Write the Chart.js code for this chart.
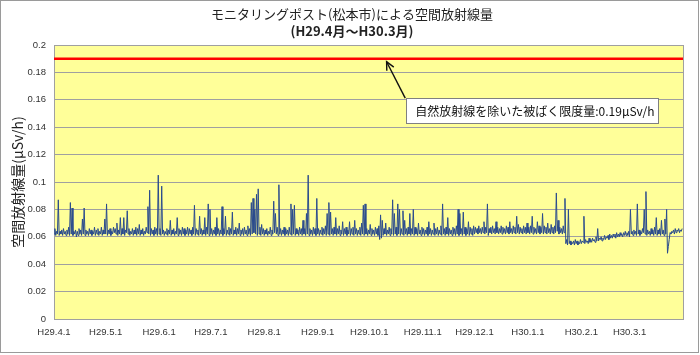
<!DOCTYPE html>
<html><head><meta charset="utf-8">
<script src="https://cdn.jsdelivr.net/npm/chart.js@4.4.0/dist/chart.umd.min.js"></script>
<style>html,body{margin:0;padding:0;background:#fff;}#wrap{width:700px;height:355px;position:relative;}</style>
</head><body><div id="wrap"><canvas id="c" width="700" height="355"></canvas></div>
<script>
const titleText = 'モニタリングポスト(松本市)による空間放射線量';
const subtitleText = '(H29.4月～H30.3月)';
const yAxisTitle = '空間放射線量(μSv/h)';
const limitLabel = '自然放射線を除いた被ばく限度量:0.19μSv/h';
const limitValue = 0.19;
const monthStartDays = [0,30,61,91,122,153,183,214,244,275,306,334];
const monthLabels = ['H29.4.1','H29.5.1','H29.6.1','H29.7.1','H29.8.1','H29.9.1','H29.10.1','H29.11.1','H29.12.1','H30.1.1','H30.2.1','H30.3.1'];
const yTicks = [0,0.02,0.04,0.06,0.08,0.1,0.12,0.14,0.16,0.18,0.2];
const totalDays = 365;
const readingsPerDay = 2;
// readings in nSv/h (0.001 μSv/h), two per day
const apr = [62,66,61,64,62,87,61,64,62,65,61,66,62,64,61,65,62,67,61,85,62,81,61,64,62,65,60,64,61,66,62,65,61,73,62,81,61,65,62,64,61,66,62,65,61,64,62,67,61,65,62,66,61,64,62,67,61,65,62,73];
const may = [62,84,61,65,62,66,61,64,62,67,63,66,62,70,61,65,62,74,61,66,62,74,61,65,63,79,62,66,61,64,62,66,61,65,62,67,61,66,62,69,61,65,62,66,61,64,62,67,63,82,62,94,61,66,62,65,61,67,62,66,61,105];
const jun = [62,66,61,97,62,65,61,64,62,66,61,65,62,72,61,65,62,66,61,64,62,74,61,66,62,65,61,67,62,66,61,65,62,67,61,66,62,65,61,67,62,83,61,66,62,65,61,75,62,66,61,65,62,74,61,67,62,84,61,80];
const jul = [62,66,61,65,62,67,61,74,62,66,61,65,62,82,61,66,62,75,61,65,62,67,61,66,62,78,61,65,62,67,61,66,62,70,61,65,62,66,61,67,62,65,61,68,62,66,61,85,62,88,63,80,62,91,61,95,62,67,61,69,62,66];
const aug = [61,65,62,66,61,64,62,67,61,65,62,86,63,77,62,67,61,98,62,66,61,65,62,67,61,66,62,65,61,67,62,84,61,80,62,83,61,66,62,65,61,67,62,66,61,72,62,66,61,77,62,105,61,66,62,65,61,67,62,66,61,88];
const sep = [62,66,61,65,62,67,61,66,62,68,61,77,62,85,61,78,62,66,61,67,62,74,61,66,62,68,61,65,62,71,61,66,62,67,61,65,62,71,61,66,62,67,61,72,62,66,61,65,62,67,61,70,62,83,61,84,62,66,61,65];
const oct = [62,69,61,66,62,65,61,67,62,66,61,68,58,76,59,72,61,66,62,70,61,65,62,67,61,66,62,87,61,77,62,67,61,84,62,80,61,66,62,79,61,72,62,66,61,67,62,77,61,66,62,80,61,67,62,66,61,70,62,65,61,67];
const nov = [62,66,61,65,62,67,61,71,62,66,61,65,62,70,61,66,62,67,61,65,62,68,61,84,62,66,61,67,62,74,61,66,62,65,61,67,62,66,61,68,62,80,61,77,62,66,61,78,62,67,61,66,62,71,61,67,62,66,61,68];
const dec = [62,67,63,66,62,68,63,66,62,67,63,71,62,67,63,84,61,66,63,67,62,68,63,66,62,71,63,67,62,66,63,68,62,67,63,66,62,68,63,67,62,71,63,66,62,68,63,67,62,75,63,69,62,67,63,66,62,68,63,67,62,70];
const jan = [63,67,62,68,63,75,62,67,63,66,62,71,63,68,62,67,63,77,62,68,63,67,62,70,63,66,62,69,63,67,62,68,63,92,64,72,62,67,63,66,62,68,63,88,55,58,54,80,55,57,54,56,55,57,54,58,55,57,54,56,55,58];
const feb = [55,57,56,75,55,58,56,57,55,59,56,58,56,59,57,58,56,60,57,66,57,59,58,60,57,59,58,61,58,60,59,61,58,62,59,61,59,62,60,62,59,63,60,62,60,63,61,62,60,63,61,64,61,63,61,64];
const mar = [60,80,62,64,61,65,62,64,61,84,62,65,61,64,62,66,63,80,62,93,61,65,62,64,61,66,62,65,61,67,62,74,61,65,62,66,61,72,62,65,61,73,62,80,48,53,58,63,62,64,63,65,62,66,63,65,64,66,63,65,64,66];

const readings = [].concat(apr, may, jun, jul, aug, sep, oct, nov, dec, jan, feb, mar);
const doseData = readings.map((v, i) => ({x: i / readingsPerDay, y: v / 1000}));
const limitData = [{x: 0, y: limitValue}, {x: totalDays, y: limitValue}];

const decorPlugin = {
  id: 'decor',
  beforeDraw(chart) {
    const {ctx, chartArea: a} = chart;
    ctx.save();
    ctx.fillStyle = '#ffffff';
    ctx.fillRect(0, 0, chart.width, chart.height);
    ctx.fillStyle = '#FFFF99';
    ctx.fillRect(a.left, a.top, a.right - a.left, a.bottom - a.top);
    ctx.restore();
  },
  beforeDatasetsDraw(chart) {
    const {ctx, chartArea: a} = chart;
    ctx.save();
    ctx.strokeStyle = '#A0A0A0';
    ctx.lineWidth = 1;
    ctx.beginPath();
    ctx.moveTo(Math.round(a.right) + 0.5, a.top);
    ctx.lineTo(Math.round(a.right) + 0.5, a.bottom);
    ctx.stroke();
    ctx.restore();
  },
  afterDraw(chart) {
    const {ctx} = chart;
    const xs = chart.scales.x, ys = chart.scales.y;
    ctx.save();
    ctx.strokeStyle = '#9a9a9a';
    ctx.lineWidth = 1;
    ctx.strokeRect(0.5, 0.5, 698, 352);
    ctx.fillStyle = '#222';
    ctx.textAlign = 'center';
    ctx.textBaseline = 'middle';
    ctx.font = '13px "Noto Sans CJK JP"';
    ctx.fillText(titleText, 352, 14);
    ctx.font = 'bold 13px "Noto Sans CJK JP"';
    ctx.fillText(subtitleText, 352, 31);
    const tipX = xs.getPixelForValue(193), tipY = ys.getPixelForValue(limitValue) + 3;
    const bx = xs.getPixelForValue(204.4), by = ys.getPixelForValue(0.1612);
    const bw = 252, bh = 25;
    ctx.strokeStyle = '#111';
    ctx.lineWidth = 1.4;
    ctx.beginPath();
    ctx.moveTo(bx - 1, by);
    ctx.lineTo(tipX, tipY);
    ctx.stroke();
    const ang = Math.atan2(by - tipY, bx - 1 - tipX);
    ctx.beginPath();
    ctx.moveTo(tipX + 9 * Math.cos(ang - 0.45), tipY + 9 * Math.sin(ang - 0.45));
    ctx.lineTo(tipX, tipY);
    ctx.lineTo(tipX + 9 * Math.cos(ang + 0.45), tipY + 9 * Math.sin(ang + 0.45));
    ctx.stroke();
    ctx.fillStyle = '#ffffff';
    ctx.fillRect(bx, by, bw, bh);
    ctx.strokeStyle = '#808080';
    ctx.lineWidth = 1;
    ctx.strokeRect(Math.round(bx) + 0.5, Math.round(by) + 0.5, bw, bh);
    ctx.fillStyle = '#111';
    ctx.textAlign = 'left';
    ctx.font = '12px "Noto Sans CJK JP"';
    ctx.fillText(limitLabel, bx + 9, by + bh / 2 + 0.5);
    ctx.restore();
  }
};

new Chart(document.getElementById('c'), {
  type: 'line',
  data: {
    datasets: [
      {data: doseData, borderColor: '#2A4B8D', borderWidth: 1, pointRadius: 0, tension: 0, order: 2},
      {data: limitData, borderColor: '#FF0000', borderWidth: 2.4, pointRadius: 0, tension: 0, order: 1}
    ]
  },
  options: {
    responsive: false,
    animation: false,
    events: [],
    layout: {padding: {top: 45, right: 17, bottom: 0, left: 0}},
    plugins: {legend: {display: false}, tooltip: {enabled: false}, title: {display: false}},
    scales: {
      x: {
        type: 'linear', min: 0, max: totalDays,
        afterBuildTicks: s => { s.ticks = monthStartDays.map(v => ({value: v})); },
        afterFit: s => { s.height = 36; },
        ticks: {autoSkip: false, maxRotation: 0, padding: 8, color: '#333',
          font: {family: 'Liberation Sans', size: 9.5},
          callback: (v, i) => monthLabels[i]},
        grid: {display: false, drawTicks: false},
        border: {display: true, color: '#A0A0A0'}
      },
      y: {
        min: 0, max: 0.2,
        afterBuildTicks: s => { s.ticks = yTicks.map(v => ({value: v})); },
        afterFit: s => { s.width = 54; },
        ticks: {padding: 8, color: '#333', font: {family: 'Liberation Sans', size: 9.5},
          callback: v => String(+Number(v).toFixed(2))},
        grid: {color: '#A0A0A0', drawTicks: false, lineWidth: 1},
        border: {display: true, color: '#A0A0A0'},
        title: {display: true, text: yAxisTitle, color: '#222',
          font: {family: 'Noto Sans CJK JP', size: 14}, padding: {top: 9, bottom: 0}}
      }
    }
  },
  plugins: [decorPlugin]
});
</script></body></html>
